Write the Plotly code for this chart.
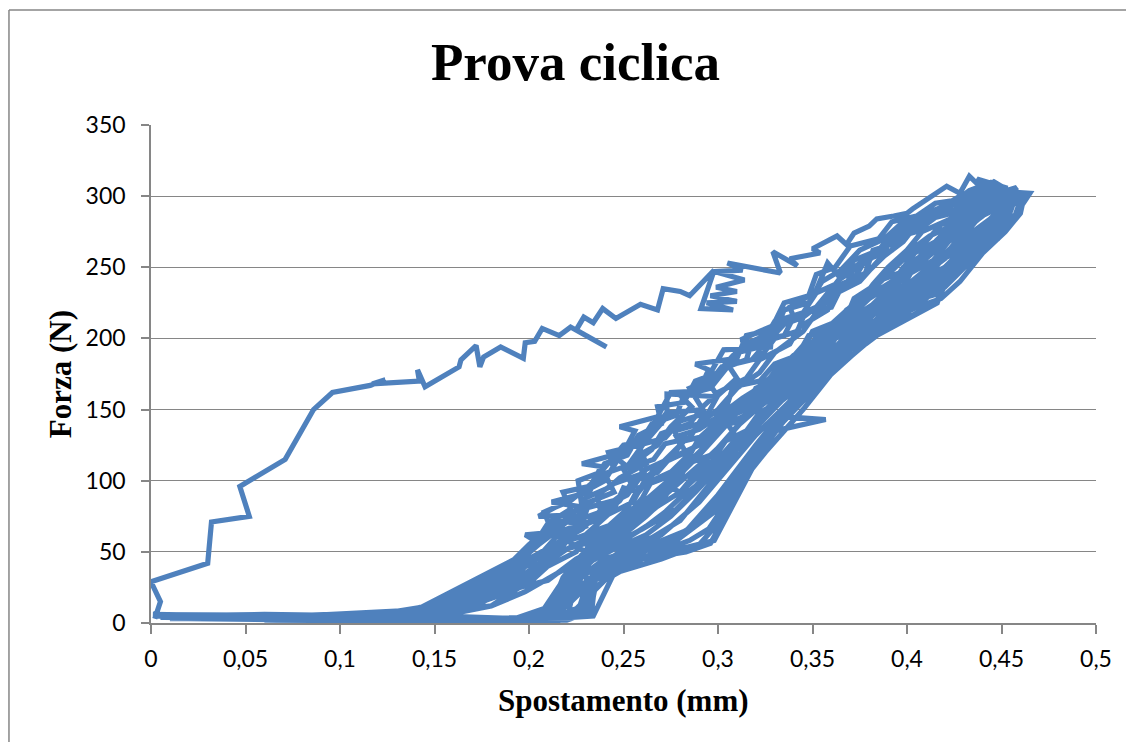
import plotly.graph_objects as go

# --- Tick labels (Excel style, comma decimal) ---
x_tick_vals = [0, 0.05, 0.1, 0.15, 0.2, 0.25, 0.3, 0.35, 0.4, 0.45, 0.5]
x_tick_text = ["0", "0,05", "0,1", "0,15", "0,2", "0,25", "0,3", "0,35", "0,4", "0,45", "0,5"]
y_tick_vals = [0, 50, 100, 150, 200, 250, 300, 350]
y_tick_text = ["0", "50", "100", "150", "200", "250", "300", "350"]

# --- First loading branch ---
spost_carico_iniziale = [
    0.002, 0.005, 0.000, 0.030, 0.032, 0.052, 0.047, 0.071, 0.086, 0.096,
    0.116, 0.124, 0.117, 0.142, 0.141, 0.145, 0.163, 0.164, 0.172, 0.174,
    0.176, 0.185, 0.197, 0.198, 0.203, 0.207, 0.216, 0.222, 0.241, 0.225,
    0.229, 0.234, 0.239, 0.246, 0.259, 0.268, 0.271, 0.280, 0.285, 0.298,
    0.291, 0.308, 0.294, 0.310, 0.296, 0.310, 0.299, 0.314, 0.298, 0.313,
    0.305, 0.333, 0.329, 0.342, 0.338, 0.354, 0.350, 0.363, 0.368, 0.372,
    0.380, 0.384, 0.393, 0.400, 0.403, 0.421, 0.428, 0.433, 0.440, 0.446,
    0.455, 0.465, 0.463,
]
forza_carico_iniziale = [
    3, 15, 29, 42, 71, 75, 96, 115, 150, 162,
    167, 171, 168, 170, 178, 166, 180, 185, 195, 180,
    187, 194, 186, 197, 198, 207, 202, 208, 194, 206,
    215, 211, 221, 214, 224, 220, 235, 233, 230, 248,
    221, 220, 225, 226, 230, 233, 236, 241, 247, 248,
    253, 246, 261, 251, 256, 260, 263, 272, 266, 274,
    279, 284, 286, 288, 291, 307, 302, 314, 305, 310,
    303, 302, 298,
]

# --- Following load/unload cycles (one row per half cycle) ---
spost_cicli = [
    0.455, 0.432, 0.424, 0.418, 0.416, 0.370, 0.363, 0.340, 0.329, 0.298, 0.255, 0.235, 0.233, 0.210, 0.120, 0.040, 0.003,
    0.060, 0.115, 0.143, 0.200, 0.207, 0.225, 0.205, 0.240, 0.247, 0.252, 0.266, 0.273, 0.273, 0.300, 0.294, 0.303, 0.329, 0.312, 0.322, 0.340, 0.338, 0.347, 0.352, 0.358, 0.365, 0.383, 0.395, 0.410, 0.420, 0.436, 0.450, 0.447,
    0.440, 0.418, 0.400, 0.370, 0.345, 0.320, 0.300, 0.270, 0.250, 0.235, 0.232, 0.200,
    0.100, 0.150, 0.185, 0.210, 0.215, 0.230, 0.245, 0.250, 0.258, 0.270, 0.280, 0.277, 0.290, 0.300, 0.310, 0.322, 0.330, 0.345, 0.352, 0.360, 0.375, 0.385, 0.392, 0.405, 0.415, 0.430, 0.440, 0.446,
    0.450, 0.430, 0.415, 0.395, 0.370, 0.350, 0.330, 0.310, 0.300, 0.280, 0.240, 0.220, 0.205,
    0.001, 0.050, 0.120, 0.143, 0.170, 0.190, 0.205, 0.220, 0.225, 0.238, 0.236, 0.245, 0.260, 0.258, 0.268, 0.275, 0.286, 0.280, 0.295, 0.302, 0.318, 0.325, 0.335, 0.345, 0.355, 0.368, 0.372, 0.385, 0.395, 0.410, 0.425, 0.438, 0.452,
    0.455, 0.440, 0.420, 0.416, 0.370, 0.336, 0.330, 0.296, 0.283, 0.255, 0.230, 0.233, 0.220,
    0.130, 0.160, 0.190, 0.200, 0.215, 0.220, 0.230, 0.235, 0.250, 0.260, 0.265, 0.278, 0.285, 0.290, 0.300, 0.315, 0.320, 0.333, 0.340, 0.350, 0.360, 0.370, 0.380, 0.390, 0.400, 0.410, 0.418, 0.430, 0.440, 0.455,
    0.450, 0.435, 0.420, 0.410, 0.390, 0.360, 0.340, 0.320, 0.300, 0.280, 0.260, 0.240, 0.225, 0.210,
    0.020, 0.090, 0.140, 0.180, 0.195, 0.210, 0.225, 0.240, 0.250, 0.262, 0.270, 0.275, 0.280, 0.290, 0.302, 0.310, 0.305, 0.318, 0.330, 0.340, 0.355, 0.365, 0.375, 0.385, 0.395, 0.405, 0.412, 0.422, 0.432, 0.445, 0.460,
    0.455, 0.440, 0.425, 0.410, 0.385, 0.360, 0.345, 0.325, 0.310, 0.300, 0.290, 0.270, 0.245, 0.234, 0.200,
    0.110, 0.150, 0.170, 0.200, 0.210, 0.225, 0.230, 0.240, 0.255, 0.262, 0.270, 0.283, 0.278, 0.290, 0.300, 0.313, 0.325, 0.332, 0.345, 0.350, 0.363, 0.375, 0.382, 0.390, 0.400, 0.408, 0.420, 0.430, 0.442, 0.448,
    0.450, 0.433, 0.418, 0.400, 0.380, 0.350, 0.335, 0.357, 0.330, 0.295, 0.285, 0.265, 0.240, 0.222, 0.215,
    0.005, 0.080, 0.140, 0.165, 0.190, 0.205, 0.212, 0.228, 0.232, 0.245, 0.240, 0.255, 0.265, 0.270, 0.285, 0.292, 0.300, 0.315, 0.322, 0.338, 0.343, 0.358, 0.362, 0.378, 0.388, 0.398, 0.405, 0.418, 0.428, 0.440,
    0.445, 0.430, 0.418, 0.402, 0.385, 0.365, 0.345, 0.328, 0.312, 0.302, 0.290, 0.275, 0.250, 0.230, 0.225,
    0.140, 0.175, 0.195, 0.208, 0.220, 0.232, 0.242, 0.252, 0.258, 0.272, 0.282, 0.288, 0.298, 0.306, 0.320, 0.328, 0.336, 0.345, 0.358, 0.368, 0.372, 0.386, 0.395, 0.402, 0.412, 0.425, 0.435, 0.444, 0.452,
    0.448, 0.432, 0.415, 0.395, 0.375, 0.355, 0.338, 0.318, 0.305, 0.292, 0.270, 0.245, 0.232, 0.228, 0.205,
    0.060, 0.130, 0.160, 0.185, 0.200, 0.215, 0.222, 0.235, 0.248, 0.255, 0.268, 0.276, 0.282, 0.295, 0.302, 0.312, 0.318, 0.330, 0.340, 0.352, 0.360, 0.372, 0.380, 0.392, 0.398, 0.410, 0.420, 0.428, 0.438, 0.450, 0.458,
    0.450, 0.438, 0.425, 0.410, 0.385, 0.360, 0.340, 0.320, 0.305, 0.290, 0.270, 0.250, 0.235, 0.230, 0.210,
    0.150, 0.180, 0.198, 0.215, 0.225, 0.238, 0.250, 0.262, 0.272, 0.280, 0.288, 0.296, 0.305, 0.316, 0.326, 0.335, 0.345, 0.355, 0.366, 0.375, 0.385, 0.395, 0.405, 0.412, 0.422, 0.430, 0.438, 0.448, 0.455,
    0.452, 0.438, 0.420, 0.400, 0.378, 0.355, 0.335, 0.320, 0.305, 0.295, 0.285, 0.265, 0.240, 0.225, 0.220, 0.180,
    0.120, 0.145, 0.175, 0.198, 0.210, 0.222, 0.218, 0.232, 0.240, 0.252, 0.258, 0.270, 0.268, 0.282, 0.288, 0.300, 0.308, 0.318, 0.330, 0.335, 0.348, 0.355, 0.365, 0.375, 0.388, 0.398, 0.412, 0.425, 0.433, 0.445,
    0.442, 0.430, 0.412, 0.398, 0.380, 0.365, 0.348, 0.335, 0.318, 0.305, 0.290, 0.275, 0.262, 0.248, 0.232, 0.220, 0.212, 0.195,
    0.150, 0.178, 0.192, 0.205, 0.215, 0.228, 0.226, 0.238, 0.250, 0.262, 0.275, 0.292, 0.285, 0.298, 0.310, 0.322, 0.330, 0.345, 0.352, 0.362, 0.372, 0.385, 0.395, 0.405, 0.418, 0.428, 0.440, 0.458,
    0.455, 0.448, 0.432, 0.424, 0.410, 0.392, 0.372, 0.355, 0.342, 0.328, 0.315, 0.302, 0.288, 0.275, 0.262, 0.245, 0.228, 0.215, 0.205,
    0.010, 0.070, 0.128, 0.155, 0.182, 0.200, 0.212, 0.208, 0.222, 0.235, 0.245, 0.242, 0.258, 0.265, 0.278, 0.282, 0.296, 0.305, 0.315, 0.318, 0.335, 0.340, 0.352, 0.360, 0.372, 0.378, 0.392, 0.398, 0.410, 0.418, 0.430, 0.443, 0.450,
    0.447, 0.435, 0.420, 0.405, 0.390, 0.376, 0.362, 0.348, 0.335, 0.322, 0.310, 0.298, 0.285, 0.272, 0.258, 0.245, 0.232, 0.222, 0.210,
    0.135, 0.162, 0.188, 0.200, 0.218, 0.228, 0.240, 0.252, 0.262, 0.275, 0.290, 0.300, 0.312, 0.322, 0.336, 0.342, 0.356, 0.362, 0.376, 0.386, 0.396, 0.402, 0.414, 0.422, 0.432, 0.442, 0.452, 0.462,
    0.460, 0.452, 0.440, 0.428, 0.418, 0.405, 0.390, 0.370, 0.355, 0.338, 0.322, 0.310, 0.302, 0.290, 0.280, 0.265, 0.248, 0.236, 0.230, 0.215,
    0.040, 0.100, 0.142, 0.170, 0.190, 0.202, 0.214, 0.230, 0.228, 0.245, 0.255, 0.250, 0.266, 0.272, 0.285, 0.292, 0.304, 0.308, 0.322, 0.330, 0.342, 0.348, 0.360, 0.368, 0.378, 0.384, 0.396, 0.404, 0.415, 0.424, 0.436, 0.446, 0.437, 0.452,
    0.450, 0.438, 0.425, 0.410, 0.395, 0.380, 0.368, 0.352, 0.342, 0.330, 0.318, 0.305, 0.295, 0.280, 0.268, 0.255, 0.240, 0.228, 0.218, 0.208, 0.190,
    0.145, 0.170, 0.192, 0.205, 0.220, 0.235, 0.248, 0.258, 0.268, 0.278, 0.284, 0.296, 0.304, 0.315, 0.322, 0.332, 0.340, 0.352, 0.360, 0.370, 0.380, 0.392, 0.400, 0.410, 0.418, 0.428, 0.435, 0.445, 0.452, 0.460,
    0.456, 0.444, 0.430, 0.420, 0.408, 0.388, 0.368, 0.350, 0.336, 0.324, 0.310, 0.300, 0.290, 0.278, 0.260, 0.240, 0.226, 0.218, 0.200,
    0.130, 0.150, 0.185, 0.203, 0.198, 0.215, 0.226, 0.212, 0.232, 0.238, 0.228, 0.250, 0.256, 0.248, 0.268, 0.275, 0.290, 0.295, 0.288, 0.310, 0.315, 0.328, 0.335, 0.348, 0.352, 0.362, 0.370, 0.385, 0.392, 0.405, 0.415, 0.430, 0.442, 0.454,
    0.450, 0.440, 0.428, 0.418, 0.404, 0.386, 0.370, 0.355, 0.342, 0.330, 0.318, 0.306, 0.296, 0.285, 0.272, 0.260, 0.250, 0.240, 0.228, 0.218, 0.212, 0.190,
    0.050, 0.120, 0.148, 0.172, 0.190, 0.200, 0.215, 0.225, 0.230, 0.242, 0.248, 0.262, 0.258, 0.272, 0.280, 0.295, 0.300, 0.310, 0.305, 0.322, 0.330, 0.342, 0.346, 0.360, 0.366, 0.378, 0.382, 0.396, 0.402, 0.414, 0.422, 0.432, 0.448, 0.458,
    0.452, 0.440, 0.432, 0.420, 0.408, 0.395, 0.380, 0.368, 0.358, 0.345, 0.335, 0.322, 0.310, 0.300, 0.290, 0.278, 0.265, 0.252, 0.240, 0.230, 0.222, 0.216, 0.205,
]
forza_cicli = [
    282, 265, 248, 233, 225, 192, 180, 152, 136, 58, 44, 30, 6, 2, 3, 4, 5,
    6, 5, 11, 50, 58, 76, 75, 100, 115, 110, 136, 148, 161, 159, 171, 192, 194, 199, 205, 215, 222, 229, 234, 253, 242, 258, 272, 283, 288, 293, 300, 306,
    296, 265, 245, 205, 170, 120, 80, 50, 40, 25, 5, 1,
    2, 6, 20, 40, 55, 62, 80, 95, 92, 112, 125, 135, 140, 150, 165, 176, 190, 205, 218, 230, 240, 255, 270, 275, 285, 290, 298, 309,
    290, 262, 240, 220, 195, 172, 140, 100, 82, 62, 38, 12, 2,
    6, 3, 4, 8, 18, 30, 48, 60, 72, 78, 90, 98, 105, 118, 125, 138, 152, 160, 168, 180, 185, 196, 210, 215, 225, 238, 250, 262, 278, 286, 290, 300, 305,
    285, 270, 245, 226, 192, 150, 137, 56, 50, 44, 35, 8, 2,
    2, 8, 22, 35, 48, 58, 50, 65, 72, 88, 100, 108, 118, 130, 142, 150, 165, 172, 185, 198, 210, 222, 232, 245, 258, 268, 280, 285, 292, 300,
    288, 270, 250, 238, 218, 185, 158, 125, 90, 60, 45, 30, 10, 3,
    3, 2, 5, 12, 25, 30, 45, 55, 62, 75, 85, 95, 92, 108, 118, 130, 140, 148, 160, 175, 190, 205, 215, 228, 240, 255, 265, 275, 282, 295, 300,
    292, 275, 255, 235, 205, 175, 150, 120, 95, 70, 55, 45, 35, 5, 2,
    4, 10, 15, 28, 40, 50, 60, 75, 85, 102, 112, 120, 131, 136, 145, 158, 168, 180, 192, 205, 212, 225, 238, 250, 262, 275, 282, 288, 296, 303,
    290, 268, 232, 225, 210, 170, 145, 143, 135, 66, 58, 48, 40, 20, 2,
    4, 5, 9, 20, 38, 55, 62, 70, 85, 92, 105, 112, 122, 133, 140, 152, 162, 172, 185, 196, 208, 220, 235, 245, 258, 268, 280, 290, 296, 302,
    292, 275, 255, 235, 215, 188, 160, 130, 105, 85, 70, 58, 46, 25, 4,
    3, 14, 32, 44, 52, 60, 68, 80, 95, 102, 115, 125, 135, 148, 158, 170, 182, 195, 200, 215, 228, 240, 252, 262, 272, 280, 288, 298, 302,
    285, 262, 240, 222, 200, 178, 155, 118, 92, 72, 55, 42, 30, 6, 1,
    2, 4, 10, 25, 42, 52, 65, 72, 86, 100, 106, 118, 128, 132, 142, 155, 162, 175, 188, 196, 208, 218, 228, 238, 250, 260, 270, 280, 290, 295, 298,
    282, 265, 245, 232, 210, 182, 158, 132, 108, 85, 62, 48, 32, 8, 2,
    4, 12, 22, 35, 42, 52, 58, 68, 78, 88, 96, 108, 118, 128, 140, 152, 165, 178, 190, 200, 212, 222, 235, 248, 262, 272, 285, 292, 296,
    282, 260, 238, 218, 196, 170, 142, 118, 95, 78, 66, 55, 45, 30, 3, 2,
    3, 12, 28, 45, 70, 80, 92, 96, 112, 118, 132, 140, 152, 155, 170, 176, 188, 198, 205, 220, 225, 240, 248, 262, 270, 282, 288, 296, 304, 310,
    295, 278, 262, 245, 230, 215, 195, 178, 160, 140, 118, 98, 80, 62, 45, 25, 8, 3,
    5, 22, 40, 60, 68, 82, 100, 106, 125, 128, 148, 150, 165, 172, 190, 194, 212, 218, 232, 238, 255, 262, 275, 285, 292, 300, 305, 302,
    290, 270, 264, 248, 232, 212, 195, 180, 165, 150, 132, 112, 92, 75, 62, 52, 40, 20, 3,
    3, 5, 6, 15, 35, 52, 65, 78, 86, 100, 108, 120, 125, 140, 146, 160, 165, 180, 185, 198, 202, 215, 222, 235, 242, 255, 262, 278, 282, 292, 296, 305, 302,
    280, 262, 250, 240, 225, 210, 200, 185, 170, 152, 138, 120, 105, 90, 72, 58, 42, 18, 2,
    4, 14, 30, 45, 58, 66, 82, 90, 108, 116, 125, 138, 142, 158, 166, 178, 186, 200, 208, 222, 232, 246, 255, 268, 278, 288, 296, 300,
    288, 275, 260, 240, 228, 222, 212, 198, 184, 162, 140, 122, 108, 88, 72, 60, 50, 38, 12, 1,
    5, 3, 10, 22, 35, 42, 60, 68, 80, 86, 96, 108, 115, 126, 130, 145, 150, 166, 170, 182, 188, 202, 205, 220, 228, 240, 246, 260, 268, 280, 290, 298, 312, 306,
    292, 276, 265, 248, 232, 218, 205, 192, 180, 168, 150, 130, 110, 92, 82, 68, 55, 44, 30, 10, 2,
    6, 16, 28, 38, 52, 58, 70, 78, 92, 98, 112, 118, 128, 135, 148, 155, 168, 175, 190, 196, 210, 218, 232, 240, 255, 262, 275, 285, 292, 297,
    282, 268, 250, 236, 228, 214, 200, 182, 165, 148, 128, 112, 96, 80, 66, 52, 36, 15, 2,
    3, 9, 30, 58, 62, 64, 82, 85, 92, 110, 112, 120, 135, 138, 145, 162, 163, 178, 182, 186, 202, 206, 225, 230, 245, 250, 265, 270, 282, 286, 295, 298, 308, 304,
    286, 272, 258, 244, 236, 222, 208, 196, 184, 172, 158, 145, 128, 112, 96, 82, 68, 58, 48, 32, 12, 2,
    4, 5, 12, 25, 42, 55, 72, 70, 88, 95, 102, 112, 125, 130, 142, 148, 160, 172, 182, 186, 200, 205, 218, 222, 238, 246, 262, 268, 280, 284, 295, 300, 302, 306,
    292, 280, 268, 256, 244, 235, 222, 212, 200, 188, 176, 162, 150, 135, 120, 105, 90, 75, 62, 50, 35, 15, 2,
]

assert len(spost_carico_iniziale) == len(forza_carico_iniziale)
assert len(spost_cicli) == len(forza_cicli), (len(spost_cicli), len(forza_cicli))

spostamento = spost_carico_iniziale + spost_cicli
forza = forza_carico_iniziale + forza_cicli

fig = go.Figure()
fig.add_trace(go.Scatter(
    x=spostamento,
    y=forza,
    mode="lines",
    line=dict(color="#4F81BD", width=5.2),
    hoverinfo="skip",
))

grey = "#868686"
tick_font = dict(family="Lato, Liberation Sans, sans-serif", size=23, color="black")
serif_bold = "Liberation Serif, Times New Roman, serif"

fig.update_xaxes(
    range=[0, 0.5],
    tickvals=x_tick_vals,
    ticktext=x_tick_text,
    showgrid=False,
    zeroline=False,
    showline=True,
    linecolor=grey,
    linewidth=1.5,
    ticks="outside",
    ticklen=9,
    tickwidth=1.5,
    tickcolor=grey,
    tickfont=tick_font,
    ticklabelstandoff=6,
)
fig.update_yaxes(
    range=[0, 350],
    tickvals=y_tick_vals,
    ticktext=y_tick_text,
    showgrid=True,
    gridcolor=grey,
    gridwidth=1.4,
    zeroline=False,
    showline=True,
    linecolor=grey,
    linewidth=1.5,
    ticks="outside",
    ticklen=8,
    tickwidth=1.5,
    tickcolor=grey,
    tickfont=tick_font,
    ticklabelstandoff=11,
)

# page body adds an 8px offset, so the figure is 8px smaller than the window
fig.update_layout(
    width=1126,
    height=734,
    autosize=False,
    margin=dict(l=143, r=38, t=117, b=119),
    paper_bgcolor="white",
    plot_bgcolor="white",
    showlegend=False,
    annotations=[
        dict(text="Prova ciclica", xref="paper", yref="paper", x=0.4487, y=1.1265,
             xanchor="center", yanchor="middle", showarrow=False,
             font=dict(family=serif_bold, size=53, color="black", weight="bold")),
        dict(text="Spostamento (mm)", xref="paper", yref="paper", x=0.5, y=-0.156,
             xanchor="center", yanchor="middle", showarrow=False,
             font=dict(family=serif_bold, size=31, color="black", weight="bold")),
        dict(text="Forza (N)", xref="paper", yref="paper", x=-0.096, y=0.5,
             xanchor="center", yanchor="middle", showarrow=False, textangle=-90,
             font=dict(family=serif_bold, size=31, color="black", weight="bold")),
    ],
    shapes=[
        # chart area border (left and top edges visible)
        dict(type="line", xref="paper", yref="paper", x0=-0.1503, x1=-0.1503, y0=-0.3, y1=1.2309,
             line=dict(color=grey, width=1.5)),
        dict(type="line", xref="paper", yref="paper", x0=-0.1503, x1=1.1, y0=1.2309, y1=1.2309,
             line=dict(color=grey, width=1.5)),
    ],
)

fig.write_html("out.html")
